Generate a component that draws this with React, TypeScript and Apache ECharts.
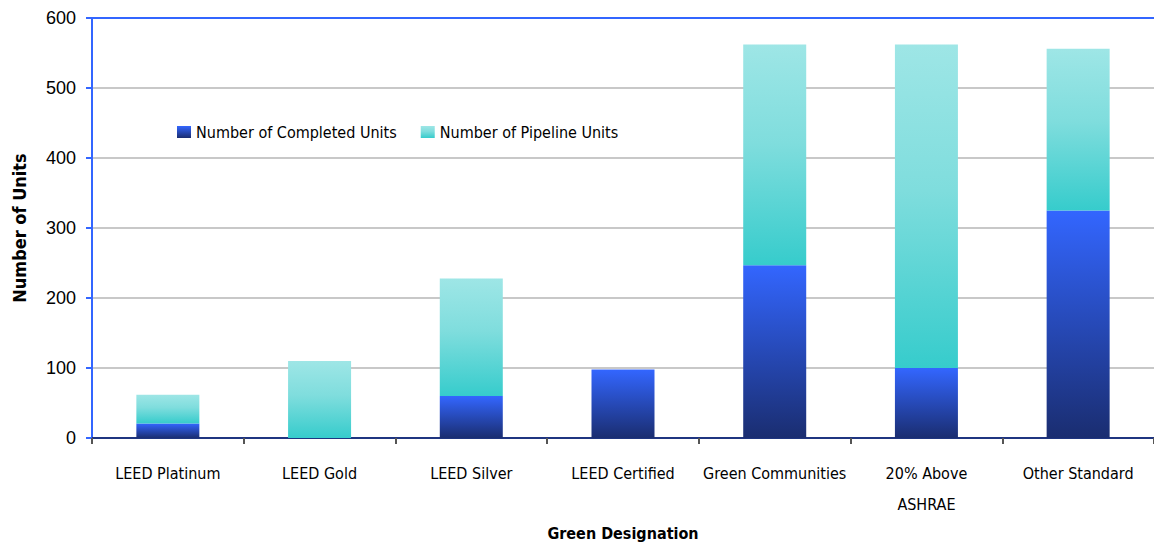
import React, { useEffect, useRef } from "react";
import * as echarts from "echarts";

const categories = [
  "LEED Platinum",
  "LEED Gold",
  "LEED Silver",
  "LEED Certified",
  "Green Communities",
  "20% Above\nASHRAE",
  "Other Standard",
];
const completedUnits = [21, 0, 60, 98, 247, 100, 325];
const pipelineUnits = [41, 110, 168, 0, 315, 462, 231];
const yTicks = { min: 0, max: 600, interval: 100 };

const NARROW = '"Liberation Sans Narrow", "DejaVu Sans Condensed", sans-serif';

export default function App() {
  const ref = useRef<HTMLDivElement>(null);
  useEffect(() => {
    if (!ref.current) return;
    const chart = echarts.init(ref.current, undefined, { renderer: "svg" });
    const completedGrad = new echarts.graphic.LinearGradient(0, 0, 0, 1, [
      { offset: 0, color: "#3366FF" },
      { offset: 1, color: "#1A2D70" },
    ]);
    const pipelineGrad = new echarts.graphic.LinearGradient(0, 0, 0, 1, [
      { offset: 0, color: "#9EE6E6" },
      { offset: 0.45, color: "#7FDDDD" },
      { offset: 1, color: "#36CCCC" },
    ]);
    chart.setOption({
      animation: false,
      backgroundColor: "#ffffff",
      grid: { left: 92, top: 18, width: 1071, height: 427, containLabel: false },
      legend: {
        left: 172,
        top: 119,
        icon: "rect",
        itemWidth: 14,
        itemHeight: 12,
        itemGap: 24,
        textStyle: { fontFamily: NARROW, fontSize: 16, color: "#000" },
        data: ["Number of Completed Units", "Number of Pipeline Units"],
      },
      xAxis: [
        {
          type: "category",
          data: categories,
          name: "Green Designation",
          nameLocation: "middle",
          nameGap: 82,
          nameTextStyle: { fontFamily: NARROW, fontSize: 16, fontWeight: "bold", color: "#000" },
          axisLine: { lineStyle: { color: "#1F3580", width: 2 } },
          axisTick: { show: true, length: 6, lineStyle: { color: "#555", width: 2 } },
          axisLabel: {
            fontFamily: NARROW,
            fontSize: 16,
            color: "#000",
            lineHeight: 31,
            margin: 20,
            interval: 0,
          },
          splitLine: { show: false },
        },
        {
          type: "category",
          data: categories,
          position: "top",
          axisLine: { lineStyle: { color: "#3366FF", width: 2 } },
          axisTick: { show: false },
          axisLabel: { show: false },
          splitLine: { show: false },
        },
      ],
      yAxis: {
        type: "value",
        min: yTicks.min,
        max: yTicks.max,
        interval: yTicks.interval,
        name: "Number of Units",
        nameLocation: "middle",
        nameGap: 64,
        nameTextStyle: { fontFamily: NARROW, fontSize: 18, fontWeight: "bold", color: "#000" },
        axisLine: { show: true, lineStyle: { color: "#3366FF", width: 2 } },
        axisTick: { show: true, length: 6, lineStyle: { color: "#3366FF", width: 2 } },
        axisLabel: {
          fontFamily: '"Liberation Sans", Arial, sans-serif',
          fontSize: 18,
          color: "#000",
          margin: 16,
        },
        splitLine: { lineStyle: { color: "#C8C8C8", width: 2 } },
      },
      series: [
        {
          name: "Number of Completed Units",
          type: "bar",
          stack: "units",
          barWidth: 63,
          data: completedUnits,
          itemStyle: { color: completedGrad },
        },
        {
          name: "Number of Pipeline Units",
          type: "bar",
          stack: "units",
          barWidth: 63,
          data: pipelineUnits,
          itemStyle: { color: pipelineGrad },
        },
      ],
    });
    return () => chart.dispose();
  }, []);
  return (
    <div
      ref={ref}
      style={{ position: "fixed", left: 0, top: 0, width: 1154, height: 546, background: "#fff" }}
    />
  );
}
